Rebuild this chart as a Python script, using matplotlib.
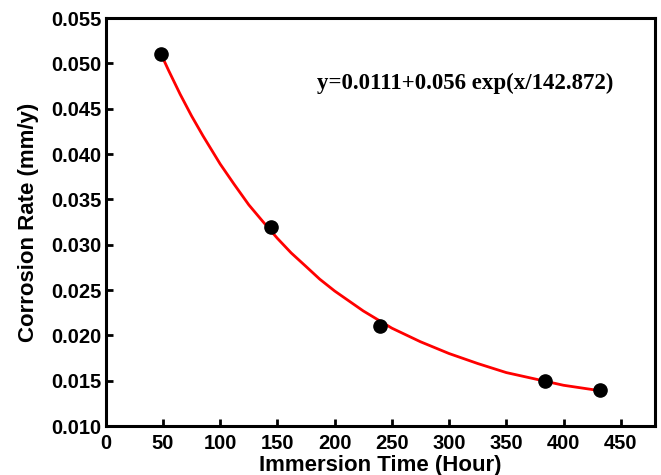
import numpy as np
import matplotlib.pyplot as plt

# measured points
time_h = [48, 144, 240, 384, 432]
rate = [0.0510, 0.0320, 0.0210, 0.0150, 0.0140]

# fitted curve
fit_x = [48, 55, 65, 75, 85, 100, 112, 125, 137, 150, 162, 175, 187, 200, 225, 250,
         275, 300, 325, 350, 375, 400, 432]
fit_y = [0.0511, 0.0492, 0.0466, 0.0442, 0.0420, 0.0389, 0.0367, 0.0344, 0.0326,
         0.0307, 0.0291, 0.0276, 0.0262, 0.0249, 0.0227, 0.0208, 0.0193, 0.0180,
         0.0169, 0.0159, 0.0152, 0.0145, 0.0139]

x_ticks = [0, 50, 100, 150, 200, 250, 300, 350, 400, 450]
y_ticks = [0.010, 0.015, 0.020, 0.025, 0.030, 0.035, 0.040, 0.045, 0.050, 0.055]

fig = plt.figure(figsize=(6.61, 4.75), dpi=100)
ax = fig.add_axes([0.160, 0.103, 0.831, 0.859])

ax.plot(fit_x, fit_y, '-', color='#ff0000', lw=2.0, zorder=2)
ax.plot(time_h, rate, 'o', color='black', ms=9.5, zorder=3)

ax.set_xlim(0, 480)
ax.set_ylim(0.010, 0.055)
ax.set_xticks(x_ticks)
ax.set_yticks(y_ticks)
ax.set_yticklabels([f'{v:.3f}' for v in y_ticks])

for s in ax.spines.values():
    s.set_linewidth(2.2)
ax.tick_params(direction='in', width=2, length=5, labelsize=14.5, pad=3)
ax.tick_params(axis='x', pad=6)
for lab in ax.get_xticklabels() + ax.get_yticklabels():
    lab.set_family('Liberation Sans')
    lab.set_fontweight('bold')

ax.set_xlabel('Immersion Time (Hour)', fontsize=16, fontweight='bold',
              family='Liberation Sans', labelpad=1)
ax.set_ylabel('Corrosion Rate (mm/y)', fontsize=16, fontweight='bold',
              family='Liberation Sans', labelpad=9)

ax.text(185, 0.0478, 'y=0.0111+0.056 exp(x/142.872)', fontsize=16.5,
        fontweight='bold', family='Liberation Serif', va='center')

fig.savefig('out.png', dpi=100)
